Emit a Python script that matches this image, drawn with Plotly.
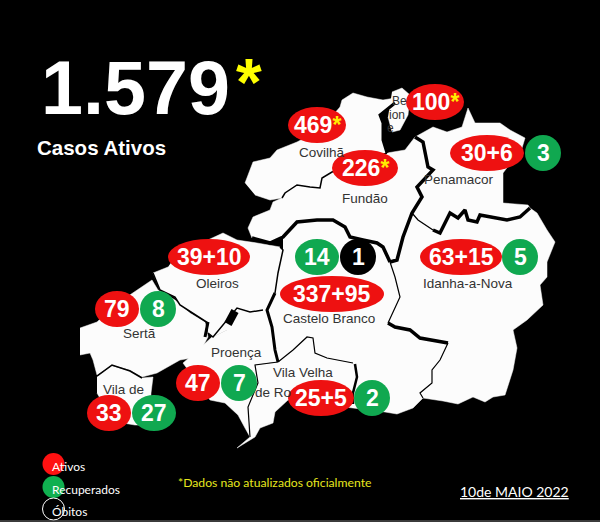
import plotly.graph_objects as go

# municipality outlines, picture pixels
covilha_x = [245, 253, 270, 277, 297, 320, 340, 342, 353, 367, 383, 395, 395, 380, 383, 383, 387, 332, 322, 320, 310, 297, 285, 282, 270, 255]
covilha_y = [183, 162, 158, 150, 142, 130, 107, 100, 93, 97, 100, 98, 103, 115, 123, 140, 153, 172, 178, 188, 187, 185, 193, 198, 200, 195]
belmonte_x = [392, 402, 410, 408, 400, 392, 388]
belmonte_y = [92, 88, 95, 115, 130, 132, 117]
fundao_x = [387, 405, 415, 423, 428, 433, 417, 422, 412, 403, 397, 390, 383, 377, 363, 350, 345, 333, 317, 297, 283, 270, 252, 248, 253, 270, 273, 282, 285, 297, 310, 320, 322, 332]
fundao_y = [153, 150, 137, 142, 167, 170, 187, 197, 213, 237, 260, 262, 247, 243, 240, 237, 227, 220, 220, 222, 237, 243, 238, 228, 217, 210, 202, 198, 193, 185, 187, 188, 178, 172]
penamacor_x = [415, 433, 447, 462, 468, 475, 500, 510, 525, 522, 503, 503, 528, 530, 520, 507, 480, 477, 468, 465, 458, 450, 440, 433, 418, 412, 422, 417, 433, 428, 423]
penamacor_y = [137, 127, 132, 127, 108, 123, 123, 130, 138, 148, 173, 203, 205, 208, 217, 220, 215, 222, 220, 210, 218, 213, 233, 230, 220, 213, 197, 187, 170, 167, 142]
idanha_x = [412, 418, 433, 440, 450, 458, 465, 468, 477, 480, 507, 520, 530, 537, 547, 555, 547, 547, 540, 543, 527, 513, 517, 513, 505, 493, 485, 473, 458, 443, 423, 420, 432, 432, 440, 448, 420, 410, 395, 388, 400, 395, 390, 397, 403]
idanha_y = [213, 220, 230, 233, 213, 218, 210, 220, 222, 215, 220, 217, 208, 213, 230, 242, 262, 277, 285, 305, 320, 330, 348, 370, 395, 397, 402, 397, 404, 401, 398, 393, 383, 370, 360, 343, 338, 330, 327, 323, 297, 277, 262, 260, 237]
branco_x = [283, 297, 317, 333, 345, 350, 363, 377, 383, 390, 395, 400, 388, 395, 410, 420, 448, 440, 432, 432, 420, 423, 413, 397, 385, 353, 353, 357, 353, 327, 315, 313, 307, 293, 278, 275, 272, 267, 275, 278, 283]
branco_y = [237, 222, 220, 220, 227, 237, 240, 243, 247, 262, 277, 297, 323, 327, 330, 338, 343, 360, 370, 383, 393, 398, 408, 414, 412, 408, 393, 377, 363, 358, 353, 338, 337, 350, 362, 350, 327, 310, 293, 273, 250]
oleiros_x = [180, 197, 223, 237, 257, 280, 283, 278, 275, 267, 263, 250, 237, 227, 227, 213, 208, 208, 193, 180, 175, 160, 153, 168]
oleiros_y = [250, 245, 233, 240, 243, 247, 250, 273, 293, 310, 310, 312, 308, 320, 330, 337, 333, 323, 313, 305, 297, 290, 273, 267]
serta_x = [80, 97, 115, 137, 152, 158, 175, 190, 205, 208, 197, 180, 157, 142, 130, 112, 97, 93, 90, 80]
serta_y = [328, 322, 305, 290, 280, 290, 300, 313, 322, 337, 357, 360, 373, 377, 370, 365, 375, 360, 353, 355]
vila_rei_x = [97, 112, 130, 142, 153, 151, 150, 135, 105, 101, 97]
vila_rei_y = [377, 366, 371, 378, 377, 393, 425, 425, 420, 400, 393]
proenca_x = [263, 267, 272, 275, 278, 275, 255, 258, 248, 250, 245, 238, 225, 210, 183, 190, 212, 213, 227, 227, 237, 250]
proenca_y = [310, 310, 327, 350, 362, 362, 365, 383, 407, 437, 428, 415, 403, 400, 363, 357, 337, 337, 330, 320, 308, 312]
vila_velha_x = [255, 275, 278, 293, 307, 313, 315, 327, 353, 357, 353, 353, 288, 275, 273, 260, 255, 237, 250, 248, 258]
vila_velha_y = [365, 362, 362, 350, 337, 338, 353, 358, 363, 377, 393, 408, 400, 412, 423, 428, 437, 448, 437, 407, 383]

# borders between municipalities: x, y, width
border_x = [
    [395, 380, 383, 383, 387],
    [387, 332, 322, 320, 310, 297, 285, 282],
    [415, 423, 428, 433, 417, 422, 412, 403, 397, 390],
    [252, 270, 283, 297, 317, 333, 345, 350, 363, 377, 383, 390],
    [412, 418, 433],
    [433, 440, 450, 458, 465, 468, 477, 480, 507, 520, 530],
    [390, 395, 400, 388],
    [388, 395, 410, 420, 448],
    [448, 440, 432, 432, 420, 423],
    [280, 283, 278, 275],
    [275, 267, 272, 275, 278],
    [263, 250, 237, 227, 213, 208],
    [235, 228],
    [208, 193, 180, 175, 160, 153],
    [208, 205],
    [278, 255, 258, 248, 250],
    [278, 293, 307, 313, 315, 327, 353],
    [355, 357, 353, 353],
    [142, 130, 112, 97],
]
border_y = [
    [103, 115, 123, 140, 153],
    [153, 172, 178, 188, 187, 185, 193, 198],
    [137, 142, 167, 170, 187, 197, 213, 237, 260, 262],
    [238, 243, 237, 222, 220, 220, 227, 237, 240, 243, 247, 262],
    [213, 220, 230],
    [230, 233, 213, 218, 210, 220, 222, 215, 220, 217, 208],
    [262, 277, 297, 323],
    [323, 327, 330, 338, 343],
    [343, 360, 370, 383, 393, 398],
    [247, 250, 273, 293],
    [293, 310, 327, 350, 362],
    [310, 312, 308, 320, 337, 333],
    [311, 324],
    [323, 313, 305, 297, 290, 273],
    [322, 337],
    [362, 365, 383, 407, 437],
    [362, 350, 337, 338, 353, 358, 363],
    [364, 377, 393, 404],
    [378, 371, 365, 376],
]
border_w = [3, 1.5, 3.5, 3.5, 1.2, 3.5, 1.2, 3.5, 1.2, 1.5, 3, 1.5, 8, 1.5, 3, 1.2, 1.2, 2.5, 1.5]

# case bubbles
bubble_x = [317, 365, 435, 487, 543, 461, 520, 209, 317, 358, 332, 117, 158, 198, 239, 109, 154, 321, 372]
bubble_y = [125, 168, 102, 153, 153, 257, 257, 257, 257, 257, 294, 309, 309, 383, 383, 413, 413, 398, 398]
bubble_rx = [29, 33, 29, 37, 18, 41, 18, 41, 22, 18, 52, 22, 18, 22, 18, 22, 22, 33, 18]
bubble_kind = ["a", "a", "a", "a", "r", "a", "r", "a", "r", "o", "a", "a", "r", "a", "r", "a", "r", "a", "r"]
bubble_text = ["469*", "226*", "100*", "30+6", "3", "63+15", "5", "39+10", "14", "1", "337+95", "79", "8", "47", "7", "33", "27", "25+5", "2"]

kind_color = {"a": "#ee1111", "r": "#10a850", "o": "#000000"}

label_text = ["Covilhã", "Fundão", "Penamacor", "Oleiros", "Idanha-a-Nova", "Castelo Branco", "Sertã", "Proença", "Vila Velha", "de Ro", "Vila de", "Be", "ion", "e"]
label_x = [322, 365, 459, 217, 468, 329, 139, 236, 303, 273, 123, 399, 397, 390]
label_y = [152, 198, 179, 283, 283, 318, 333, 352, 372, 392, 389, 101, 115, 128]
label_size = [13.5, 13.5, 13.5, 13.5, 13.5, 13.5, 13.5, 13.5, 13.5, 13.5, 13.5, 12, 12, 12]

legend_text = ["Ativos", "Recuperados", "Óbitos"]
legend_y = [464, 487, 509]
legend_fill = ["#ff1111", "#10b050", "rgba(0,0,0,0)"]

fig = go.Figure()

outlines = [(covilha_x, covilha_y), (belmonte_x, belmonte_y), (fundao_x, fundao_y), (penamacor_x, penamacor_y),
            (idanha_x, idanha_y), (branco_x, branco_y), (oleiros_x, oleiros_y), (serta_x, serta_y),
            (vila_rei_x, vila_rei_y), (proenca_x, proenca_y), (vila_velha_x, vila_velha_y)]
for xs, ys in outlines:
    fig.add_trace(go.Scatter(x=xs, y=ys, mode="lines", fill="toself", fillcolor="#fcfcfc",
                             line=dict(color="#fcfcfc", width=0.5), hoverinfo="skip"))

for xs, ys, w in zip(border_x, border_y, border_w):
    fig.add_trace(go.Scatter(x=xs, y=ys, mode="lines", line=dict(color="black", width=w), hoverinfo="skip"))

shapes = []
annotations = []

for t, x, y, s in zip(label_text, label_x, label_y, label_size):
    annotations.append(dict(x=x, y=y, text=t, showarrow=False,
                            font=dict(family="Liberation Sans", size=s, color="#333333")))

for x, y, rx, k, t in zip(bubble_x, bubble_y, bubble_rx, bubble_kind, bubble_text):
    shapes.append(dict(type="circle", xref="x", yref="y", x0=x - rx, x1=x + rx, y0=y - 18, y1=y + 18,
                       fillcolor=kind_color[k], line=dict(width=0)))
    t = t.replace("*", '<span style="color:#ffee00">*</span>')
    annotations.append(dict(x=x, y=y, text="<b>" + t + "</b>", showarrow=False,
                            font=dict(family="Liberation Sans", size=23, color="white")))

for t, y, c in zip(legend_text, legend_y, legend_fill):
    shapes.append(dict(type="circle", xref="x", yref="y", x0=42.5, x1=64.5, y0=y - 11, y1=y + 11, fillcolor=c,
                       line=dict(width=1 if c.startswith("rgba") else 0, color="white")))
    annotations.append(dict(x=50, y=y + 2, text=t, showarrow=False, xanchor="left",
                            font=dict(family="Lato", size=12, color="white")))

# thin grey edge along the bottom of the picture
shapes.append(dict(type="line", xref="x", yref="y", x0=0, x1=600, y0=521, y1=521, line=dict(color="#777777", width=1)))

annotations += [
    dict(x=39, y=88, text="<b>1.579</b>", showarrow=False, xanchor="left",
         font=dict(family="Liberation Sans", size=75.5, color="white")),
    dict(x=249, y=82, text="<b>*</b>", showarrow=False,
         font=dict(family="Liberation Sans", size=66, color="#ffff00")),
    dict(x=35, y=147, text="<b>Casos Ativos</b>", showarrow=False, xanchor="left",
         font=dict(family="Liberation Sans", size=20.5, color="white")),
    dict(x=176, y=482, text="*Dados não atualizados oficialmente", showarrow=False, xanchor="left",
         font=dict(family="Lato", size=12.2, color="#e6e61e")),
    dict(x=458, y=491, text="<u>10de MAIO 2022</u>", showarrow=False, xanchor="left",
         font=dict(family="Lato", size=14, color="white")),
]

fig.update_layout(
    width=600, height=522, margin=dict(l=0, r=0, t=0, b=0),
    paper_bgcolor="black", plot_bgcolor="black", showlegend=False,
    xaxis=dict(range=[0, 600], visible=False, fixedrange=True),
    yaxis=dict(range=[522, 0], visible=False, fixedrange=True),
    shapes=shapes, annotations=annotations,
)
# the page's default body margin would push the chart off the window
fig.write_html("out.html", config=dict(displayModeBar=False),
               post_script="document.body.style.margin='0';document.body.style.background='black';document.body.style.overflow='hidden';")
